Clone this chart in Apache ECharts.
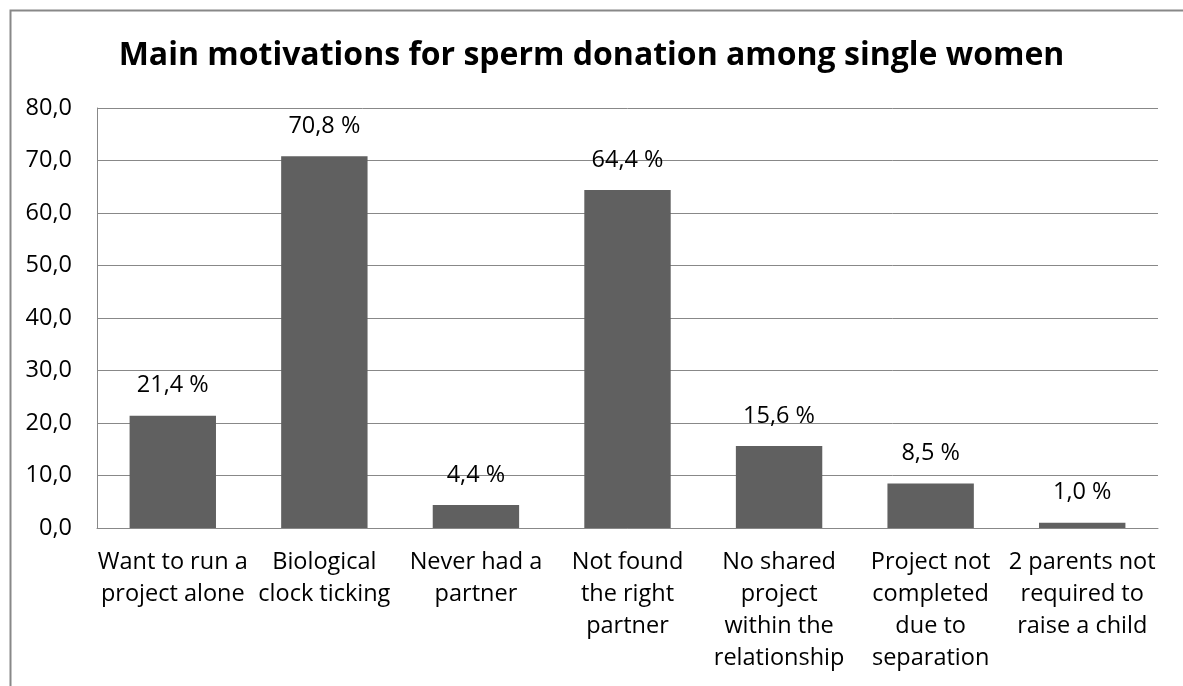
<!DOCTYPE html>
<html><head><meta charset="utf-8">
<script src="https://cdn.jsdelivr.net/npm/echarts@6/dist/echarts.min.js"></script>
<style>html,body{margin:0;padding:0;background:#fff}#c{width:1183px;height:686px}</style>
</head><body><div id="c"></div>
<script>
const titleText = "Main motivations for sperm donation among single women";
const categories = [
  "Want to run a\nproject alone",
  "Biological\nclock ticking",
  "Never had a\npartner",
  "Not found\nthe right\npartner",
  "No shared\nproject\nwithin the\nrelationship",
  "Project not\ncompleted\ndue to\nseparation",
  "2 parents not\nrequired to\nraise a child"
];
const values = [21.4, 70.8, 4.4, 64.4, 15.6, 8.5, 1.0];
const yMin = 0, yMax = 80, yInterval = 10;

const FONT = "Open Sans";
const FS = 23.5;
const chart = echarts.init(document.getElementById('c'));
chart.setOption({
  animation: false,
  backgroundColor: '#fff',
  graphic: [{
    type: 'rect', left: 8, top: 8,
    shape: { width: 1300, height: 800 },
    style: { fill: 'none', stroke: '#888', lineWidth: 2 }
  }],
  title: {
    text: titleText, left: 'center', top: 35,
    textStyle: { fontFamily: FONT, fontWeight: 'bold', fontSize: 32, color: '#000' }
  },
  grid: { left: 97, right: 25, top: 108, bottom: 158, containLabel: false },
  xAxis: {
    type: 'category', data: categories,
    axisLine: { lineStyle: { color: '#888', width: 1 } },
    axisTick: { show: false },
    axisLabel: { interval: 0, fontFamily: FONT, fontSize: FS, color: '#000', lineHeight: 32, margin: 18 }
  },
  yAxis: {
    type: 'value', min: yMin, max: yMax, interval: yInterval,
    axisLine: { show: true, lineStyle: { color: '#888' } },
    axisTick: { show: false },
    splitLine: { lineStyle: { color: '#888', width: 1 } },
    axisLabel: {
      fontFamily: FONT, fontSize: FS, color: '#000', margin: 25,
      formatter: v => v.toFixed(1).replace('.', ',')
    }
  },
  series: [{
    type: 'bar', data: values, barWidth: '57%',
    itemStyle: { color: '#606060' },
    label: {
      show: true, position: 'top', distance: 18,
      fontFamily: FONT, fontSize: FS, color: '#000',
      formatter: p => p.value.toFixed(1).replace('.', ',') + ' %'
    }
  }]
});
</script></body></html>
